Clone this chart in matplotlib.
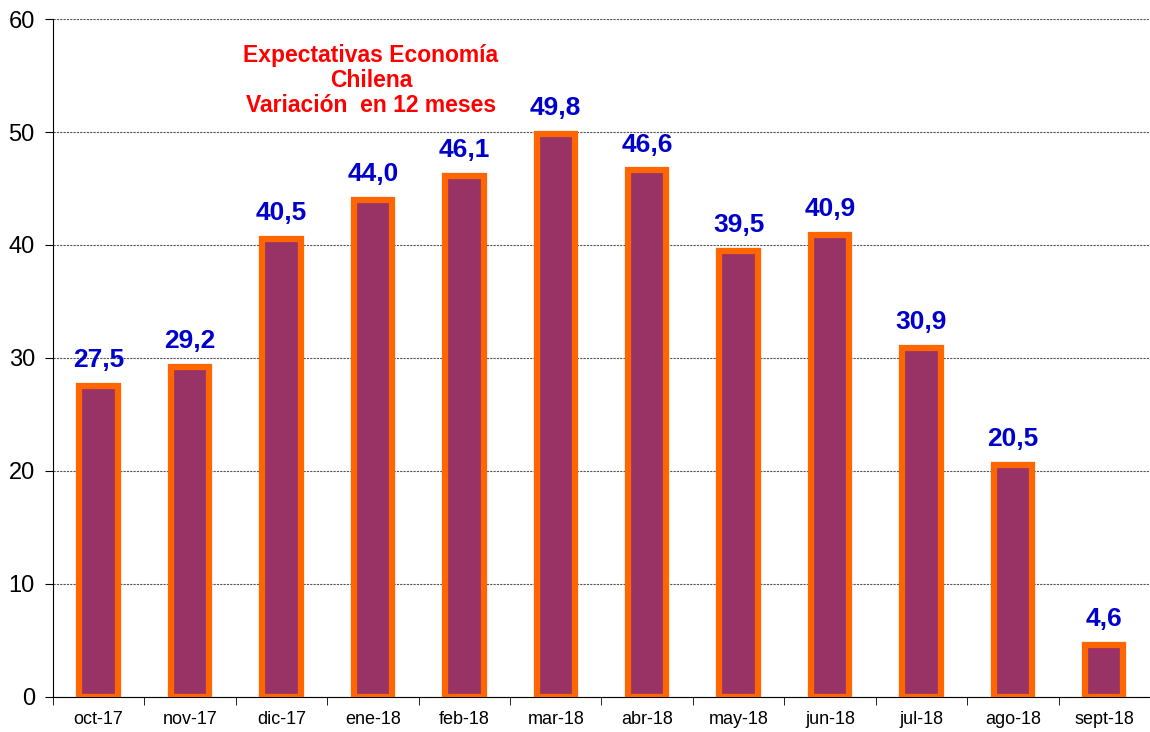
import numpy as np
import matplotlib
matplotlib.use("Agg")
from matplotlib import pyplot as plt

months = ["oct-17", "nov-17", "dic-17", "ene-18", "feb-18", "mar-18",
          "abr-18", "may-18", "jun-18", "jul-18", "ago-18", "sept-18"]
values = [27.5, 29.2, 40.5, 44.0, 46.1, 49.8, 46.6, 39.5, 40.9, 30.9, 20.5, 4.6]
yticks = [0, 10, 20, 30, 40, 50, 60]
title = "Expectativas Economía\nChilena\nVariación  en 12 meses"


def main():
    plt.rcParams['font.family'] = ['Liberation Sans', 'DejaVu Sans']
    fig = plt.figure(figsize=(11.5, 7.32), dpi=100)
    ax = fig.add_axes([0.046, 0.048, 0.954, 0.926])

    x = np.arange(len(months))
    ax.bar(x, values, width=0.42, color="#993366", edgecolor="#FF6600",
           linewidth=4.5, zorder=3)

    for xi, v in zip(x, values):
        ax.annotate(f"{v:.1f}".replace(".", ","), (xi, v), xytext=(0, 10),
                    textcoords="offset points", ha="center", va="bottom",
                    fontsize=19, fontweight="bold", color="#0000CC")

    ax.set_xlim(-0.5, len(months) - 0.5)
    ax.set_ylim(0, 60)
    ax.set_yticks(yticks)
    ax.tick_params(axis="y", labelsize=17, direction="out", length=6,
                   color="black", pad=7)
    ax.set_xticks(x)
    ax.set_xticklabels(months, fontsize=13)
    ax.set_xticks(np.arange(len(months) + 1) - 0.5, minor=True)
    ax.tick_params(axis="x", which="major", length=0, pad=10)
    ax.tick_params(axis="x", which="minor", length=6, direction="out", color="black")

    ax.grid(axis="y", linestyle=(0, (2, 1)), color="#555555", linewidth=0.8, zorder=0)
    for s in ["top", "right"]:
        ax.spines[s].set_visible(False)
    ax.spines["left"].set_color("black")
    ax.spines["bottom"].set_color("black")

    ax.text(0.29, 0.963, title, transform=ax.transAxes, ha="center", va="top",
            fontsize=16.5, fontweight="bold", color="#FF0000", linespacing=1.1)

    fig.savefig("out.png", dpi=100)


if __name__ == "__main__":
    main()
